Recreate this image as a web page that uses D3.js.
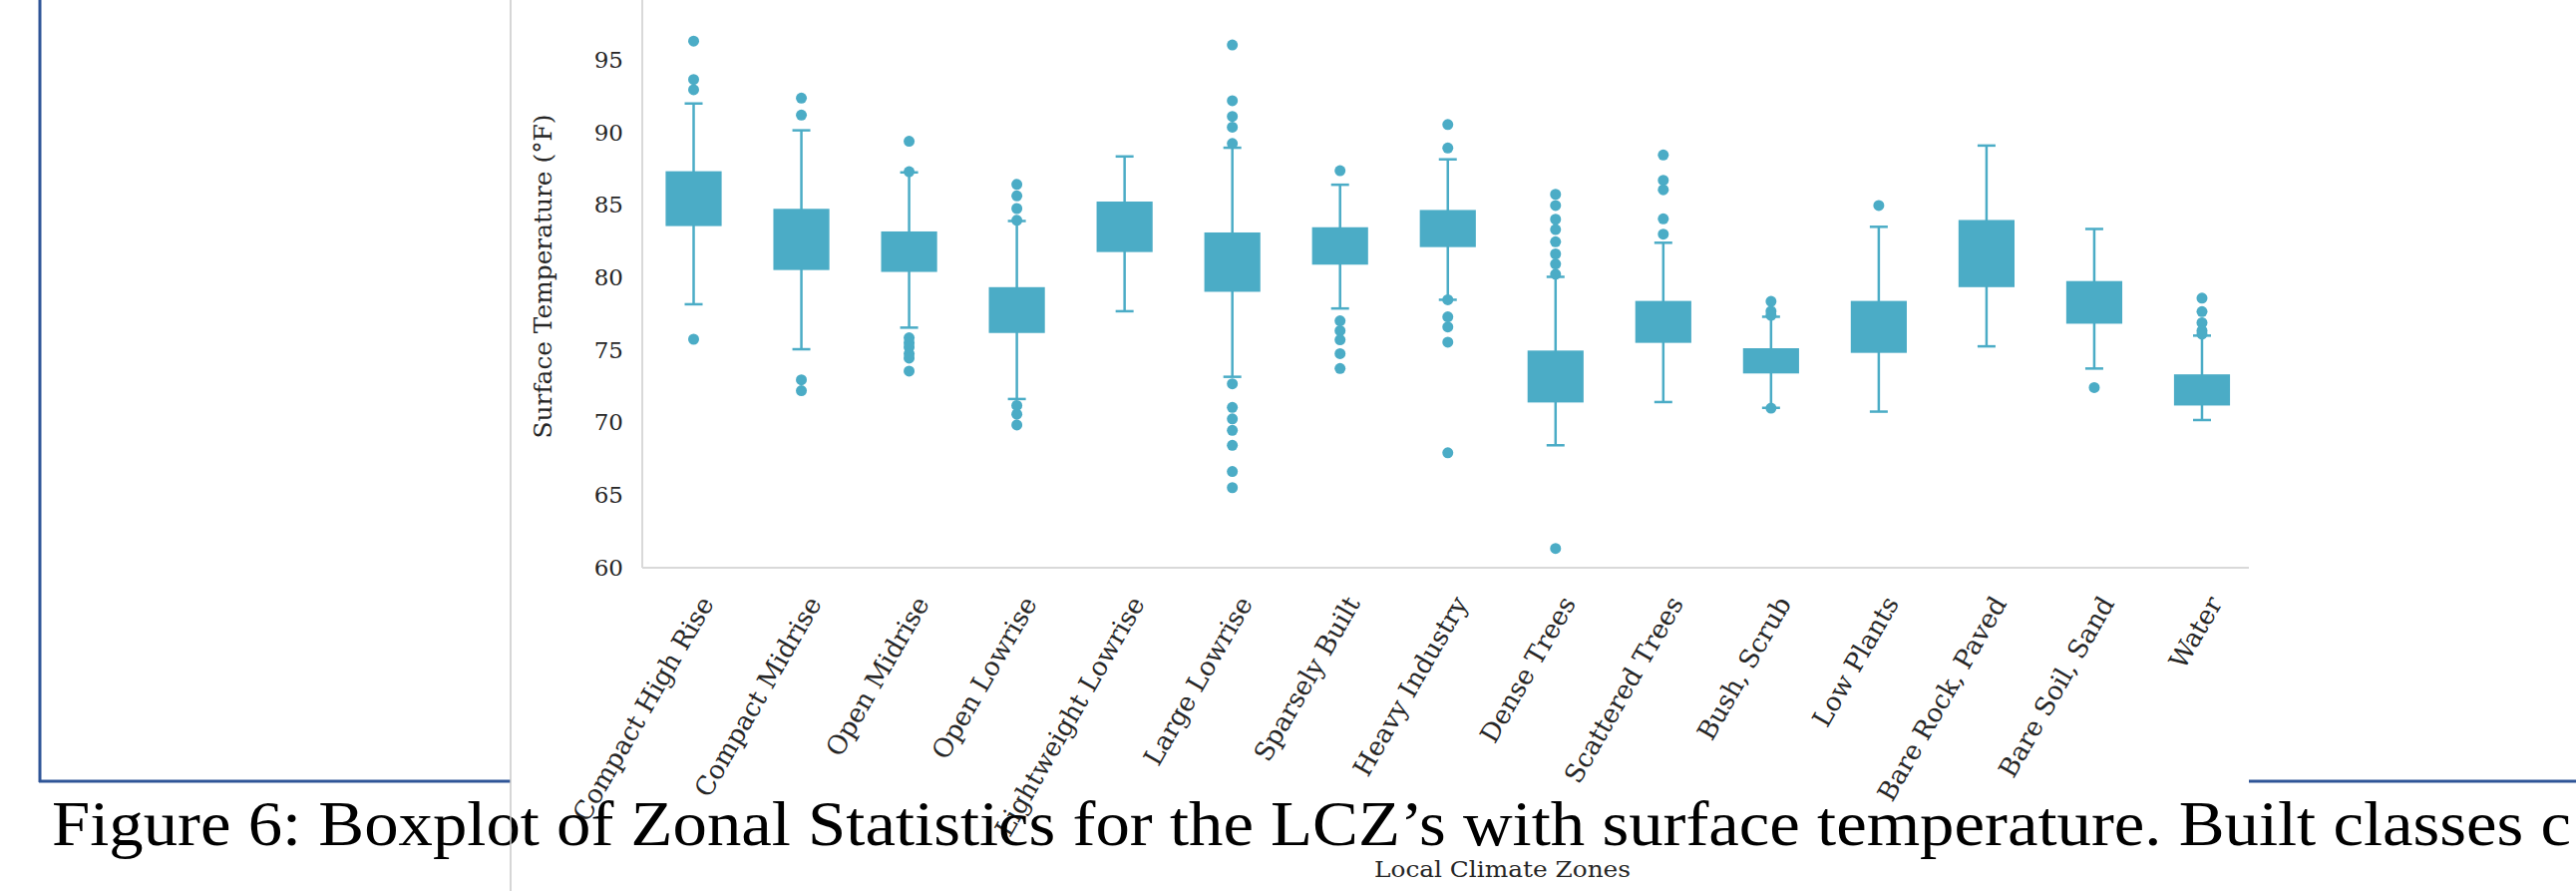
<!DOCTYPE html>
<html>
<head>
<meta charset="utf-8">
<script src="https://cdn.jsdelivr.net/npm/d3@7"></script>
<style>
  body { margin: 0; background: #fff; }
  svg { display: block; }
</style>
</head>
<body>
<div id="chart_div"></div>
<script>
// data
var categories = ["Compact High Rise", "Compact Midrise", "Open Midrise", "Open Lowrise", "Lightweight Lowrise",
  "Large Lowrise", "Sparsely Built", "Heavy Industry", "Dense Trees", "Scattered Trees",
  "Bush, Scrub", "Low Plants", "Bare Rock, Paved", "Bare Soil, Sand", "Water"];
var whiskerHigh = [92.0, 90.15, 87.25, 83.9, 88.35, 88.95, 86.4, 88.15, 80.05, 82.4, 77.3, 83.5, 89.1, 83.35, 76.0];
var boxHigh = [87.33, 84.74, 83.18, 79.34, 85.24, 83.11, 83.47, 84.66, 74.97, 78.39, 75.13, 78.39, 83.97, 79.76, 73.33];
var boxLow = [83.55, 80.52, 80.39, 76.18, 81.76, 79.02, 80.89, 82.1, 71.39, 75.5, 73.39, 74.81, 79.34, 76.82, 71.18];
var whiskerLow = [78.16, 75.06, 76.55, 71.63, 77.68, 73.16, 77.87, 78.47, 68.44, 71.42, 71.02, 70.76, 75.26, 73.73, 70.18];
var outliers = [
  [96.3, 93.65, 92.95, 75.75],
  [92.37, 91.2, 72.95, 72.2],
  [89.4, 87.3, 75.85, 75.5, 75.2, 74.75, 74.45, 73.55],
  [86.42, 85.63, 84.76, 83.95, 71.18, 70.58, 69.84],
  [],
  [96.03, 92.19, 91.11, 90.37, 89.24, 72.68, 71.05, 70.26, 69.47, 68.44, 66.63, 65.52],
  [87.37, 77.02, 76.34, 75.71, 74.76, 73.73],
  [90.55, 88.93, 78.47, 77.29, 76.6, 75.55, 67.92],
  [85.74, 84.97, 84.02, 83.31, 82.47, 81.63, 80.94, 80.23, 61.33],
  [88.45, 86.71, 86.05, 84.05, 82.99],
  [78.36, 77.68, 77.4, 71.0],
  [84.97],
  [],
  [72.42],
  [78.58, 77.65, 76.89, 76.34, 76.1]
];
var yTicks = [60, 65, 70, 75, 80, 85, 90, 95];

var captionText = "Figure 6: Boxplot of Zonal Statistics for the LCZ\u2019s with surface temperature. Built classes c";
var yTitle = "Surface Temperature (\u00b0F)";
var xTitle = "Local Climate Zones";

var W = 2583, H = 893;
var boxColor = "#4BACC6";
var axisColor = "#d9d9d9";
var serif = "'DejaVu Serif', Georgia, serif";

var svg = d3.select("#chart_div")
  .append("svg")
    .attr("width", W)
    .attr("height", H);

// document frame behind the chart
var frame = svg.append("g").attr("class", "doc_frame");
frame.append("line")
  .attr("x1", 40).attr("x2", 40)
  .attr("y1", 0).attr("y2", 784)
  .attr("stroke", "#2F5597").attr("stroke-width", 3);
frame.append("line")
  .attr("x1", 39).attr("x2", W)
  .attr("y1", 783).attr("y2", 783)
  .attr("stroke", "#2F5597").attr("stroke-width", 3);

// chart panel (white, covers the frame)
svg.append("rect")
  .attr("x", 512).attr("y", 0)
  .attr("width", 2255 - 512).attr("height", H)
  .attr("fill", "#fff");

// scales
var x = d3.scaleBand()
  .domain(categories)
  .range([641.5, 2262]);
var y = d3.scaleLinear()
  .domain([60, 100])
  .range([569, 569 - 40 * 14.54]);

var cx = d => x(d) + x.bandwidth() / 2;
var boxW = x.bandwidth() * 0.52;
var capW = 18;

// axis lines
svg.append("line")
  .attr("x1", 644).attr("x2", 644)
  .attr("y1", 0).attr("y2", y(60))
  .attr("stroke", axisColor).attr("stroke-width", 2);
svg.append("line")
  .attr("x1", 644).attr("x2", 2255)
  .attr("y1", y(60)).attr("y2", y(60))
  .attr("stroke", axisColor).attr("stroke-width", 2);

// y axis labels
var yAxis = svg.append("g")
  .attr("transform", "translate(644,0)")
  .call(d3.axisLeft(y).tickValues(yTicks).tickSize(0).tickPadding(19).tickFormat(d3.format("d")));
yAxis.select(".domain").remove();
yAxis.selectAll("text")
  .attr("font-family", serif)
  .attr("font-size", 23)
  .attr("fill", "#262626");

// x axis labels, rotated
var xAxis = svg.append("g")
  .attr("transform", "translate(0," + y(60) + ")")
  .call(d3.axisBottom(x).tickSize(0));
xAxis.select(".domain").remove();
xAxis.selectAll("text")
  .attr("font-family", serif)
  .attr("font-size", 26)
  .attr("fill", "#262626")
  .attr("text-anchor", "end")
  .attr("dy", "0.35em")
  .attr("y", 0)
  .attr("transform", "translate(13,31) rotate(-60)");

// boxes
var groups = svg.append("g").attr("class", "boxes")
  .selectAll("g").data(categories)
  .enter().append("g");

groups.append("line") // whisker
  .attr("x1", d => cx(d)).attr("x2", d => cx(d))
  .attr("y1", (d, i) => y(whiskerHigh[i]))
  .attr("y2", (d, i) => y(whiskerLow[i]))
  .attr("stroke", boxColor).attr("stroke-width", 2.5);

groups.append("line") // top cap
  .attr("x1", d => cx(d) - capW / 2).attr("x2", d => cx(d) + capW / 2)
  .attr("y1", (d, i) => y(whiskerHigh[i]))
  .attr("y2", (d, i) => y(whiskerHigh[i]))
  .attr("stroke", boxColor).attr("stroke-width", 2.5);

groups.append("line") // bottom cap
  .attr("x1", d => cx(d) - capW / 2).attr("x2", d => cx(d) + capW / 2)
  .attr("y1", (d, i) => y(whiskerLow[i]))
  .attr("y2", (d, i) => y(whiskerLow[i]))
  .attr("stroke", boxColor).attr("stroke-width", 2.5);

groups.append("rect")
  .attr("x", d => cx(d) - boxW / 2)
  .attr("width", boxW)
  .attr("y", (d, i) => y(boxHigh[i]))
  .attr("height", (d, i) => y(boxLow[i]) - y(boxHigh[i]))
  .attr("fill", boxColor);

groups.selectAll("circle")
  .data((d, i) => outliers[i].map(v => ({cat: d, v: v})))
  .enter().append("circle")
    .attr("cx", d => cx(d.cat))
    .attr("cy", d => y(d.v))
    .attr("r", 5.5)
    .attr("fill", boxColor);

// axis titles
svg.append("text")
  .attr("transform", "translate(553,277) rotate(-90)")
  .attr("text-anchor", "middle")
  .attr("font-family", serif)
  .attr("font-size", 25)
  .attr("fill", "#262626")
  .attr("textLength", 325)
  .attr("lengthAdjust", "spacingAndGlyphs")
  .text(yTitle);

svg.append("text")
  .attr("x", 1378)
  .attr("y", 879)
  .attr("font-family", serif)
  .attr("font-size", 23)
  .attr("fill", "#262626")
  .attr("textLength", 257)
  .attr("lengthAdjust", "spacingAndGlyphs")
  .text(xTitle);

// document caption on top (Times-like face, natural width fits the page)
svg.append("text")
  .attr("x", 52)
  .attr("y", 847)
  .attr("font-family", "'Liberation Serif', 'Times New Roman', serif")
  .attr("font-size", 64)
  .attr("fill", "#000")
  .attr("textLength", 2526)
  .attr("lengthAdjust", "spacingAndGlyphs")
  .text(captionText);

// panel edge
svg.append("line")
  .attr("x1", 512).attr("x2", 512)
  .attr("y1", 0).attr("y2", H)
  .attr("stroke", "#c8c8c8").attr("stroke-width", 1.5);
</script>
</body>
</html>
